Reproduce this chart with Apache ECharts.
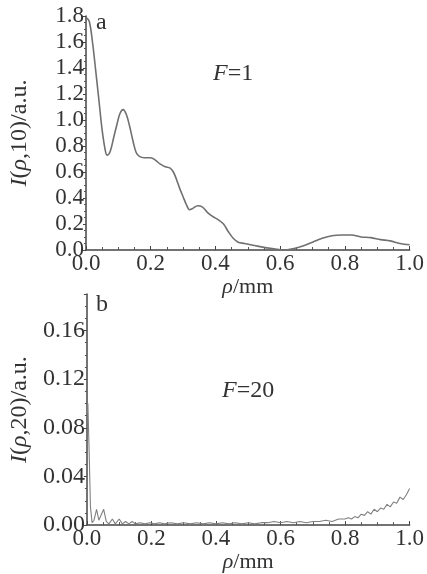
<!DOCTYPE html>
<html>
  <head>
    <meta http-equiv="Content-Type" content="text/html; charset=utf-8" />
    <title></title>
    <script src="https://cdn.jsdelivr.net/npm/echarts@6/dist/echarts.min.js"></script>
    <style>
      html, body { margin: 0; padding: 0; background: #fff; }
      #chart { width: 427px; height: 574px; }
    </style>
  </head>
  <body>
    <div id="chart"></div>
    <script>
      // panel a, F=1
      var rhoA = [0, 0.01, 0.02, 0.03, 0.04, 0.05, 0.06, 0.065, 0.075, 0.085, 0.095, 0.105, 0.115, 0.125,
        0.135, 0.145, 0.155, 0.165, 0.18, 0.2, 0.215, 0.23, 0.245, 0.26, 0.27, 0.28, 0.29, 0.3, 0.31,
        0.32, 0.33, 0.345, 0.36, 0.375, 0.39, 0.41, 0.425, 0.44, 0.455, 0.47, 0.49, 0.52, 0.55, 0.58,
        0.61, 0.64, 0.67, 0.7, 0.73, 0.76, 0.79, 0.82, 0.85, 0.88, 0.91, 0.94, 0.97, 1.0];
      var intensityA = [1.79, 1.76, 1.6, 1.38, 1.15, 0.92, 0.76, 0.73, 0.76, 0.86, 0.96, 1.05, 1.08, 1.04,
        0.95, 0.84, 0.75, 0.72, 0.71, 0.71, 0.69, 0.66, 0.64, 0.63, 0.6, 0.54, 0.47, 0.41, 0.35,
        0.31, 0.32, 0.34, 0.33, 0.29, 0.26, 0.23, 0.2, 0.14, 0.09, 0.06, 0.05, 0.035, 0.02, 0.01,
        0.0, 0.01, 0.03, 0.06, 0.09, 0.11, 0.115, 0.115, 0.1, 0.095, 0.08, 0.07, 0.05, 0.04];

      // panel b, F=20
      var rhoB = [0, 0.003, 0.007, 0.011, 0.016, 0.022, 0.03, 0.037, 0.043, 0.052, 0.06, 0.068, 0.079,
        0.088, 0.1, 0.11, 0.12, 0.13, 0.14, 0.15, 0.165, 0.18, 0.195, 0.21, 0.225, 0.24, 0.26, 0.28,
        0.3, 0.32, 0.34, 0.36, 0.38, 0.4, 0.42, 0.44, 0.46, 0.48, 0.5, 0.52, 0.54, 0.56, 0.58, 0.6,
        0.62, 0.64, 0.66, 0.68, 0.7, 0.72, 0.74, 0.76, 0.78, 0.8, 0.81, 0.82, 0.83, 0.84, 0.85, 0.86,
        0.87, 0.88, 0.89, 0.9, 0.91, 0.92, 0.93, 0.94, 0.95, 0.96, 0.97, 0.98, 0.99, 1.0];
      var intensityB = [0.092, 0.1, 0.06, 0.015, 0.002, 0.004, 0.013, 0.004, 0.003, 0.013, 0.003, 0.001, 0.005,
        0.001, 0.005, 0.001, 0.003, 0.001, 0.003, 0.001, 0.002, 0.001, 0.002, 0.001, 0.002, 0.001, 0.002, 0.001,
        0.002, 0.001, 0.002, 0.001, 0.002, 0.001, 0.002, 0.001, 0.002, 0.001, 0.002, 0.001, 0.002, 0.002, 0.003, 0.002,
        0.003, 0.002, 0.003, 0.002, 0.003, 0.003, 0.004, 0.003, 0.005, 0.005, 0.006, 0.005, 0.007, 0.006, 0.009, 0.008,
        0.011, 0.009, 0.013, 0.011, 0.014, 0.013, 0.017, 0.015, 0.019, 0.018, 0.023, 0.021, 0.025, 0.03];

      var xTicks = ['0.0', '0.2', '0.4', '0.6', '0.8', '1.0'];

      function pairs(xs, ys) {
        var out = [];
        for (var i = 0; i < xs.length; i++) out.push([xs[i], ys[i]]);
        return out;
      }

      var font = '"Liberation Serif", "DejaVu Serif", serif';
      var ink = '#333';

      function nameStyle(size) {
        return { fontFamily: font, fontSize: size, color: ink,
          rich: { i: { fontFamily: font, fontStyle: 'italic', fontSize: size, color: ink } } };
      }

      function xAxisOf(gi) {
        return {
          gridIndex: gi, type: 'value', min: 0, max: 1, interval: 0.2,
          name: '{i|ρ}/mm', nameLocation: 'middle', nameGap: 22,
          nameTextStyle: nameStyle(22),
          axisLine: { lineStyle: { color: '#444', width: 1.5 } },
          axisTick: { inside: true, length: 4, lineStyle: { color: '#444' } },
          minorTick: { show: true, splitNumber: 4, length: 3, lineStyle: { color: '#555' } },
          splitLine: { show: false },
          axisLabel: { fontFamily: font, fontSize: 23, color: ink, margin: 2,
            formatter: function (v) { return xTicks[Math.round(v / 0.2)] || ''; } }
        };
      }

      function fText(txt, x, y) {
        return { type: 'text', left: x, top: y, style: { text: txt, font: '24px ' + font, fill: ink,
          rich: { i: { fontStyle: 'italic', fontFamily: font, fontSize: 24, fill: ink } } } };
      }

      var option = {
        animation: false,
        backgroundColor: '#fff',
        grid: [
          { left: 82, top: 16, width: 330, height: 234 },
          { left: 82, top: 294, width: 330, height: 237 }
        ],
        xAxis: [xAxisOf(0), xAxisOf(1)],
        yAxis: [
          {
            gridIndex: 0, type: 'value', min: 0, max: 1.8, interval: 0.2,
            name: '{i|I}({i|ρ},10)/a.u.', nameLocation: 'middle', nameGap: 54, nameRotate: 90,
            nameTextStyle: nameStyle(24),
            axisLine: { show: true, lineStyle: { color: '#444', width: 1.5 } },
            axisTick: { show: true, length: 3, lineStyle: { color: '#444' } },
            minorTick: { show: true, splitNumber: 4, length: 2, lineStyle: { color: '#555' } },
            splitLine: { show: false },
            axisLabel: { fontFamily: font, fontSize: 23, color: ink, margin: 2,
              formatter: function (v) { return v.toFixed(1); } }
          },
          {
            gridIndex: 1, type: 'value', min: 0, max: 0.19, interval: 0.04,
            name: '{i|I}({i|ρ},20)/a.u.', nameLocation: 'middle', nameGap: 54, nameRotate: 90,
            nameTextStyle: nameStyle(24),
            axisLine: { show: true, lineStyle: { color: '#444', width: 1.5 } },
            axisTick: { show: true, length: 3, lineStyle: { color: '#444' } },
            minorTick: { show: true, splitNumber: 4, length: 2, lineStyle: { color: '#555' } },
            splitLine: { show: false },
            axisLabel: { fontFamily: font, fontSize: 24, color: ink, margin: 2, showMaxLabel: false,
              formatter: function (v) { return v > 0.17 ? '' : v.toFixed(2); } }
          }
        ],
        graphic: [
          fText('a', 96, 11),
          fText('{i|F}=1', 213, 62),
          fText('b', 96, 293),
          fText('{i|F}=20', 222, 379)
        ],
        series: [
          {
            type: 'line', xAxisIndex: 0, yAxisIndex: 0, showSymbol: false, smooth: 0.35,
            lineStyle: { color: '#707070', width: 1.6 },
            data: pairs(rhoA, intensityA)
          },
          {
            type: 'line', xAxisIndex: 1, yAxisIndex: 1, showSymbol: false,
            lineStyle: { color: '#808080', width: 1.1 },
            data: pairs(rhoB, intensityB)
          }
        ]
      };

      var myChart = echarts.init(document.getElementById('chart'));
      myChart.setOption(option);
    </script>
  </body>
</html>
